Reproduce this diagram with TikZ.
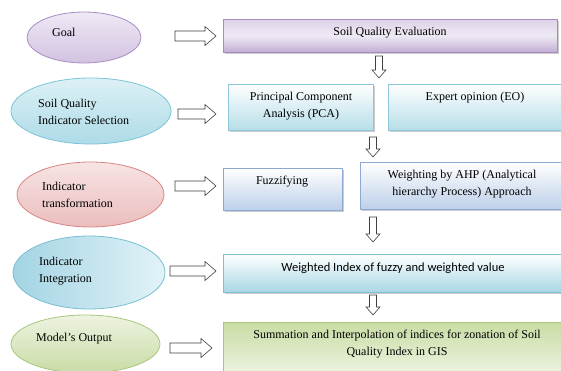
\documentclass[tikz,border=0pt]{standalone}
\usepackage{fontspec}
\setmainfont{Liberation Serif}
\newfontfamily\timesfont{Liberation Serif}
\newfontfamily\calibrifont{Carlito}
\usetikzlibrary{shapes.geometric,shadows}
\definecolor{pupA}{HTML}{EFE9F5}\definecolor{pupB}{HTML}{D2C2E1}\definecolor{pupD}{HTML}{A88DC3}
\definecolor{cyA}{HTML}{DDF1F6}\definecolor{cyB}{HTML}{ADDBE7}\definecolor{cyD}{HTML}{7CC4D6}
\definecolor{rdA}{HTML}{F8E4E4}\definecolor{rdB}{HTML}{EBBDBD}\definecolor{rdD}{HTML}{D88585}
\definecolor{blA}{HTML}{E2F3F8}\definecolor{blB}{HTML}{A3D4E3}\definecolor{blD}{HTML}{78BED3}
\definecolor{grA}{HTML}{EDF3E0}\definecolor{grB}{HTML}{C9DCA6}\definecolor{grD}{HTML}{A9C67C}
\definecolor{sqT}{HTML}{DCD2E8}\definecolor{sqM}{HTML}{EFEAF4}\definecolor{sqB}{HTML}{C2AED6}\definecolor{sqD}{HTML}{A68CC2}
\definecolor{bxC}{HTML}{B6DEE8}\definecolor{bxD}{HTML}{8BC7D8}
\definecolor{bxF}{HTML}{BDD0EA}\definecolor{bxFD}{HTML}{8DA9D2}
\definecolor{bxW}{HTML}{A8D7E4}\definecolor{bxWD}{HTML}{7DC0D5}
\definecolor{smT}{HTML}{C9DCA4}\definecolor{smB}{HTML}{EEF4E2}\definecolor{smD}{HTML}{A9C67C}
\begin{document}
\begin{tikzpicture}[x=1pt,y=-1pt,
  txt/.style={font=\timesfont\fontsize{12}{17}\selectfont, inner sep=0pt, align=center},
  oval/.style={ellipse, draw=#1, line width=0.8pt, inner sep=0pt},
  box/.style={draw=#1, line width=0.8pt, inner sep=0pt,
    drop shadow={shadow xshift=2pt, shadow yshift=-2pt, fill=black!40, opacity=0.5}},
  harrow/.style={draw=black!75, fill=white, line width=0.6pt},
  pics/rarr/.style={code={\draw[harrow] (0,-5) -- ({#1-11},-5) -- ({#1-11},-9.5) -- (#1,0) -- ({#1-11},9.5) -- ({#1-11},5) -- (0,5) -- cycle;}},
  pics/darr/.style={code={\draw[harrow] (-3.5,0) -- (-3.5,{#1-8}) -- (-7,{#1-8}) -- (0,#1) -- (7,{#1-8}) -- (3.5,{#1-8}) -- (3.5,0) -- cycle;}}
]
\useasboundingbox (0,0) rectangle (561,370);

% ellipses
\node[oval=pupD, top color=pupA, bottom color=pupB, minimum width=114pt, minimum height=51pt] (goal) at (84,37.5) {};
\node[oval=cyD, top color=cyA, bottom color=cyB, minimum width=160pt, minimum height=66pt] (sqis) at (91,111) {};
\node[oval=rdD, top color=rdA, bottom color=rdB, minimum width=147pt, minimum height=65pt] (itr) at (90.5,194.5) {};
\node[oval=blD, left color=blB, right color=blA, minimum width=152pt, minimum height=73pt] (iin) at (89,272.5) {};
\node[oval=grD, top color=grA, bottom color=grB, minimum width=149pt, minimum height=58pt] (mo) at (85.5,344) {};

\node[txt, anchor=west] (tgoal) at (52,32) {Goal};
\node[txt, anchor=west, align=left] (tsqis) at (38,111.5) {Soil Quality\\Indicator Selection};
\node[txt, anchor=west, align=left] (titr) at (42,194.5) {Indicator\\transformation};
\node[txt, anchor=west, align=left] (tiin) at (39,271.5) {Indicator\\Integration};
\node[txt, anchor=west] (tmo) at (36,339) {Model’s Output};

% boxes
\node[box=sqD, top color=sqT, bottom color=sqB, middle color=sqM, minimum width=334pt, minimum height=33pt] (sqe) at (390,35.5) {};
\node[box=bxD, top color=white, bottom color=bxC, minimum width=145pt, minimum height=46pt] (pca) at (300.5,107) {};
\node[box=bxD, top color=white, bottom color=bxC, minimum width=176pt, minimum height=46pt] (eo) at (476,107) {};
\node[box=bxFD, top color=white, bottom color=bxF, minimum width=119pt, minimum height=42pt] (fuz) at (282.5,189) {};
\node[box=bxFD, top color=white, bottom color=bxF, minimum width=205pt, minimum height=47pt] (ahp) at (462.5,185.5) {};
\node[box=bxWD, top color=white, bottom color=bxW, minimum width=342pt, minimum height=38pt] (wi) at (394,273) {};
\node[box=smD, top color=smT, bottom color=smB, minimum width=342pt, minimum height=53pt] (sum) at (394,348.5) {};

\node[txt] (tsqe) at (390,33) {Soil Quality Evaluation};
\node[txt] (tpca) at (301,106.5) {Principal Component\\Analysis (PCA)};
\node[txt] (teo) at (475,98) {Expert opinion (EO)};
\node[txt] (tfuz) at (282,182) {Fuzzifying};
\node[txt] (tahp) at (462,184) {Weighting by AHP (Analytical\\hierarchy Process) Approach};
\node[txt, font=\calibrifont\fontsize{12.5}{15}\selectfont] (twi) at (393,268) {Weighted Index of fuzzy and weighted value};
\node[txt] (tsum) at (397,344.5) {Summation and Interpolation of indices for zonation of Soil\\Quality Index in GIS};

% hollow arrows
\pic (r1) at (175,36) {rarr=41};
\pic (r2) at (178,114) {rarr=38};
\pic (r3) at (175,186) {rarr=41};
\pic (r4) at (170,271) {rarr=46};
\pic (r5) at (170,348) {rarr=42};
\pic (d1) at (379,56) {darr=22};
\pic (d2) at (373,137) {darr=20};
\pic (d3) at (373,217) {darr=25};
\pic (d4) at (373,295) {darr=20};
\end{tikzpicture}
\end{document}
